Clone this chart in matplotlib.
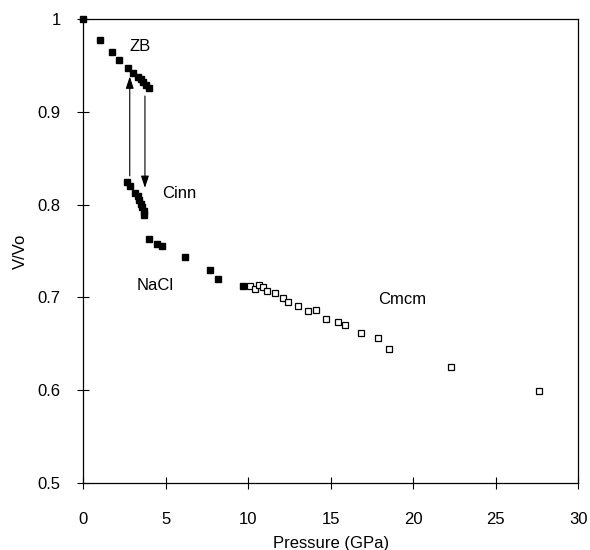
import matplotlib
matplotlib.use("Agg")
import matplotlib.pyplot as plt

plt.rcParams['font.family'] = ['Liberation Sans', 'DejaVu Sans']

# filled squares: ZB, Cinn, NaCl
p_filled = [0.0, 1.0, 1.75, 2.2, 2.7, 3.05, 3.3, 3.5, 3.65, 3.82, 4.0,
            2.65, 2.85, 3.15, 3.3, 3.4, 3.5, 3.6, 3.68, 3.72,
            4.0, 4.45, 4.8, 6.15, 7.7, 8.2, 9.7]
v_filled = [1.0, 0.977, 0.964, 0.956, 0.947, 0.942, 0.938, 0.935, 0.932, 0.929, 0.926,
            0.824, 0.820, 0.812, 0.809, 0.805, 0.801, 0.797, 0.793, 0.789,
            0.763, 0.758, 0.755, 0.743, 0.730, 0.720, 0.712]

# open squares: Cmcm
p_open = [10.1, 10.4, 10.65, 10.9, 11.15, 11.6, 12.1, 12.4, 13.0, 13.6, 14.1,
          14.7, 15.45, 15.85, 16.85, 17.85, 18.55, 22.3, 27.6]
v_open = [0.712, 0.709, 0.713, 0.711, 0.707, 0.705, 0.699, 0.695, 0.691, 0.685, 0.686,
          0.677, 0.674, 0.670, 0.662, 0.656, 0.644, 0.625, 0.599]

phase_names = ['ZB', 'Cinn', 'NaCl', 'Cmcm']
phase_x = [3.45, 5.8, 4.35, 19.3]
phase_y = [0.970, 0.812, 0.713, 0.698]

fig = plt.figure(figsize=(5.9, 5.5), dpi=100)
ax = fig.add_axes([0.1407, 0.1218, 0.8398, 0.8437])

ax.plot(p_filled, v_filled, 's', color='black', markersize=4.8, clip_on=False, zorder=3)
ax.plot(p_open, v_open, 's', markerfacecolor='white', markeredgecolor='black',
        markeredgewidth=0.9, markersize=5, clip_on=False, zorder=3)

for name, x, y in zip(phase_names, phase_x, phase_y):
    ax.text(x, y, name, fontsize=12, ha='center', va='center')

# transition arrows
ax.annotate('', xy=(2.83, 0.938), xytext=(2.83, 0.831),
            arrowprops=dict(arrowstyle='-|>,head_length=0.6,head_width=0.2', color='black',
                            lw=0.8, mutation_scale=12, shrinkA=0, shrinkB=0))
ax.annotate('', xy=(3.75, 0.818), xytext=(3.75, 0.917),
            arrowprops=dict(arrowstyle='-|>,head_length=0.6,head_width=0.2', color='black',
                            lw=0.8, mutation_scale=12, shrinkA=0, shrinkB=0))

ax.set_xlim(0, 30)
ax.set_ylim(0.5, 1.0)
ax.set_xticks([0, 5, 10, 15, 20, 25, 30])
ax.set_yticks([0.5, 0.6, 0.7, 0.8, 0.9, 1.0])
ax.set_yticklabels(['0.5', '0.6', '0.7', '0.8', '0.9', '1'])
ax.tick_params(axis='x', direction='inout', length=8, width=0.8, labelsize=12, pad=17)
ax.tick_params(axis='y', direction='inout', length=8, width=0.8, labelsize=12, pad=12)
for s in ax.spines.values():
    s.set_linewidth(0.9)

ax.set_xlabel('Pressure (GPa)', fontsize=12, labelpad=6)
ax.set_ylabel('V/Vo', fontsize=12, labelpad=7)

fig.savefig('out.png', dpi=100)
